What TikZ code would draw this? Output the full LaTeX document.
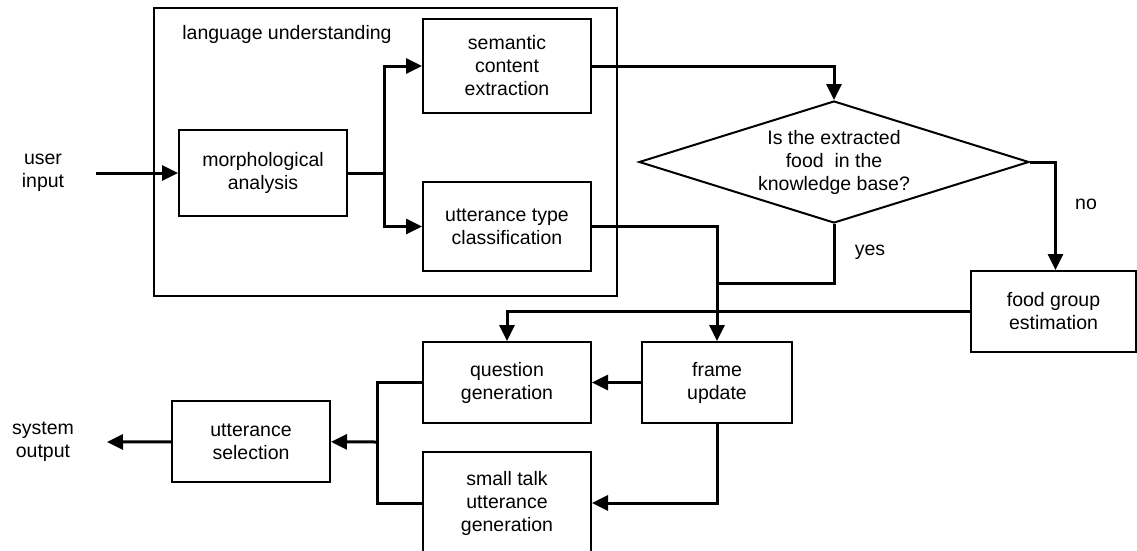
\documentclass[tikz,border=0pt]{standalone}
\usepackage{fontspec}
\setmainfont{Liberation Sans}
\usetikzlibrary{shapes.geometric,arrows.meta}
\usetikzlibrary{positioning}

\begin{document}
\begin{tikzpicture}[
  x=1pt, y=-1pt,
  every node/.style={font=\fontsize{19.5}{23}\selectfont},
  >={Triangle[length=16pt,width=15pt]},
  stage/.style={draw, line width=2pt, rectangle, align=center, inner sep=0pt, minimum width=168pt},
  check/.style={draw, line width=2pt, diamond, align=center, shape aspect=3.2, minimum width=390pt, minimum height=122pt, inner sep=0pt},
  module/.style={draw, line width=1.6pt, rectangle, inner sep=0pt},
  flow/.style={line width=3pt},
  plain/.style={align=center, inner sep=0pt}
]
\clip (0,0) rectangle (1137,550);

\node [module, minimum width=463pt, minimum height=288pt] (lu) at (385.5,152) {};
\node [plain] (lutitle) at (287,34) {language understanding};

\node [stage, minimum height=86pt] (morph) at (263,173) {morphological\\analysis};
\node [stage, minimum height=94pt] (sem) at (507,66) {semantic\\content\\extraction};
\node [stage, minimum height=89pt] (utt) at (507,226.5) {utterance type\\classification};
\node [check] (dec) at (834,162) {Is the extracted\\food~ in the\\knowledge base?};
\node [stage, minimum width=165pt, minimum height=81pt] (food) at (1053.5,311.5) {food group\\estimation};
\node [stage, minimum height=81pt] (ques) at (507,382.5) {question\\generation};
\node [stage, minimum width=150pt, minimum height=81pt] (upd) at (717,382.5) {frame\\update};
\node [stage, minimum height=102pt] (talk) at (507,503) {small talk\\utterance\\generation};
\node [stage, minimum width=158pt, minimum height=81pt] (sel) at (251,441.5) {utterance\\selection};

\node [plain] (uin) at (43,173) {user\\input};
\node [plain] (sout) at (43,442) {system\\output};
\node [plain] (yes) at (870,252) {yes};
\node [plain] (no) at (1086,204) {no};

\coordinate (in) at (96,173);
\coordinate (fork) at (384,173);
\coordinate (yesj) at (717,283);
\coordinate (mrg) at (377,442);
\coordinate (out) at (107,442);

\draw [flow, ->] (in) -- (morph);
\draw [flow] (morph) -- (fork);
\draw [flow, ->] (fork) |- (sem);
\draw [flow, ->] (fork) |- (utt);
\draw [flow, ->] (sem) -| (dec);
\draw [flow, ->] (utt) -| (upd);
\draw [flow] (dec.south) |- (yesj);
\draw [flow, ->] (dec.east) -| ([xshift=2pt]food.north);
\draw [flow, ->] (food) -| (ques);
\draw [flow, ->] (upd) -- (ques);
\draw [flow, ->] (upd) |- (talk);
\draw [flow] (ques) -| (mrg);
\draw [flow] (talk) -| (mrg);
\draw [flow, ->] (mrg) -- (sel);
\draw [flow, ->] (sel) -- (out);
\end{tikzpicture}
\end{document}
